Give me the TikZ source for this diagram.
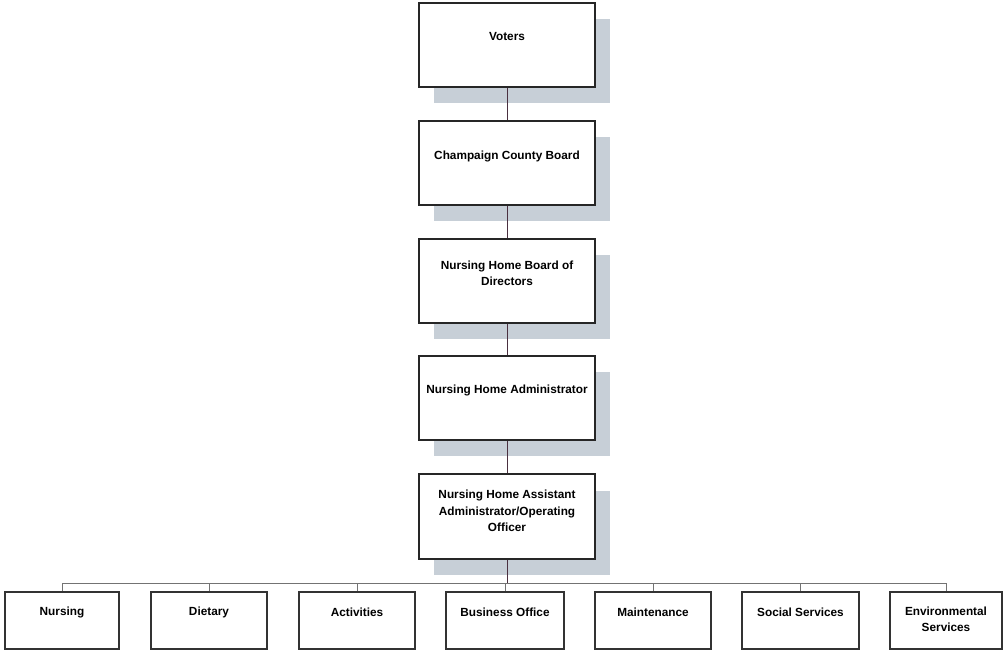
\documentclass[tikz,border=0pt]{standalone}
\usepackage{fontspec}
\setmainfont{Liberation Sans}
\usetikzlibrary{shadows}
\definecolor{shadowc}{HTML}{C7CFD7}
\definecolor{linec}{HTML}{4A3040}
\tikzset{
  txt/.style={font=\fontsize{11.8}{16.5}\selectfont\bfseries, align=center},
  topbox/.style={draw=black!85, line width=2pt, fill=white, minimum width=176pt, minimum height=84pt, inner sep=0pt,
    drop shadow={shadow xshift=15pt, shadow yshift=-16pt, fill=shadowc, opacity=1}},
  botbox/.style={draw=black!80, line width=1.8pt, fill=white, minimum height=57pt, inner sep=0pt},
  conn/.style={draw=linec, line width=1pt},
  bus/.style={draw=black!55, line width=0.8pt}
}
\begin{document}
\begin{tikzpicture}[x=1pt,y=-1pt]
\useasboundingbox (0,0) rectangle (1005,652);
% top chain
\node[topbox, label={[txt,yshift=8pt]center:Voters}] (voters) at (507,45) {};
\node[topbox, label={[txt,yshift=7.5pt]center:Champaign County Board}] (county) at (507,163.5) {};
\node[topbox, label={[txt,yshift=8pt]center:Nursing Home Board of\\Directors}] (board) at (507,281.5) {};
\node[topbox, label={[txt,yshift=8pt]center:Nursing Home Administrator}] (admin) at (507,398.5) {};
\node[topbox, label={[txt,yshift=5.5pt]center:Nursing Home Assistant\\Administrator/Operating\\Officer}] (asst) at (507,516.5) {};
\draw[conn] (voters.south) -- (county.north);
\draw[conn] (county.south) -- (board.north);
\draw[conn] (board.south) -- (admin.north);
\draw[conn] (admin.south) -- (asst.north);
% bottom row
\node[botbox, minimum width=114pt, label={[txt,yshift=8.5pt]center:Nursing}] (nursing) at (62,620.5) {};
\node[botbox, minimum width=116pt, label={[txt,yshift=8.5pt]center:Dietary}] (dietary) at (209,620.5) {};
\node[botbox, minimum width=116pt, label={[txt,yshift=8.5pt]center:Activities}] (activities) at (357,620.5) {};
\node[botbox, minimum width=118pt, label={[txt,yshift=8.5pt]center:Business Office}] (business) at (505,620.5) {};
\node[botbox, minimum width=116pt, label={[txt,yshift=8.5pt]center:Maintenance}] (maint) at (653,620.5) {};
\node[botbox, minimum width=117pt, label={[txt,yshift=8.5pt]center:Social Services}] (social) at (800.5,620.5) {};
\node[botbox, minimum width=112pt, label={[txt,yshift=1pt]center:Environmental\\Services}] (env) at (946,620.5) {};
\coordinate (busc) at (507,583);
\draw[conn] (asst.south) -- (busc);
\draw[bus] (nursing.north) |- (busc);
\draw[bus] (env.north) |- (busc);
\foreach \n in {dietary,activities,business,maint,social}
  \draw[bus] (\n.north) -- (\n.north |- busc);
\end{tikzpicture}
\end{document}
